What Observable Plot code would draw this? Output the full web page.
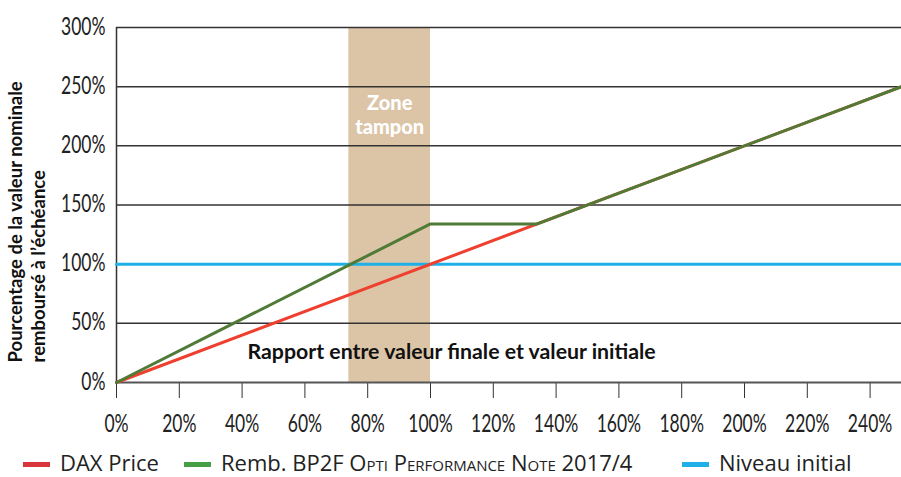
<!DOCTYPE html>
<html><head><meta charset="utf-8">
<script src="https://cdn.jsdelivr.net/npm/d3@7"></script>
<script src="https://cdn.jsdelivr.net/npm/@observablehq/plot@0.6"></script>
<style>
body{margin:0;background:#fff;}
#chart{width:901px;}
.legend{position:relative;height:37px;font-family:"Open Sans","Noto Sans",sans-serif;font-size:22px;color:#222;}
.sw{position:absolute;width:27px;height:5px;top:22px;}
.lt{position:absolute;top:7px;line-height:normal;white-space:nowrap;}
.sc{font-variant:small-caps;}
</style></head><body><div id="chart"></div>
<script>
// Data
const daxX = [0, 2.5];
const daxY = [0, 2.5];
const noteX = [0, 1.0, 1.34, 2.5];
const noteY = [0, 1.34, 1.34, 2.5];
const initialX = [0, 2.5];
const initialY = [1, 1];
const zoneRange = [0.74, 1.0];
const xTicks = [0, 0.2, 0.4, 0.6, 0.8, 1.0, 1.2, 1.4, 1.6, 1.8, 2.0, 2.2, 2.4];
const yTicks = [0, 0.5, 1.0, 1.5, 2.0, 2.5, 3.0];
const yTitle1 = "Pourcentage de la valeur nominale";
const yTitle2 = "remboursé à l’échéance";
const xTitle = "Rapport entre valeur finale et valeur initiale";
const zoneLabel = "Zone\ntampon";
const legendNames = ["DAX Price", "Remb. BP2F <span class=\"sc\">Opti Performance Note</span> 2017/4", "Niveau initial"];

const toPts = (xs, ys) => xs.map((x, i) => ({x, y: ys[i]}));
const pct = d3.format(".0%");
const tickFont = "Lato,'Liberation Sans',sans-serif";
const boldFont = "Lato,'Open Sans',sans-serif";

const plot = Plot.plot({
  width: 901,
  height: 440,
  marginTop: 27,
  marginBottom: 58,
  marginLeft: 116,
  marginRight: 0,
  x: {domain: [0, 2.5]},
  y: {domain: [0, 3]},
  style: {fontFamily: tickFont, fontSize: "25px", color: "#222", background: "#fff"},
  marks: [
    Plot.rect([{x1: zoneRange[0], x2: zoneRange[1]}], {x1: "x1", x2: "x2", y1: 0, y2: 3, fill: "#dcc4a6"}),
    Plot.ruleY(yTicks.filter(d => d > 0), {stroke: "#333", strokeWidth: 1.5}),
    Plot.axisX(xTicks, {tickSize: 16, tickPadding: 16, tickFormat: pct, label: null, stroke: "#333", fontSize: 25, fontWeight: 400}),
    Plot.axisY(yTicks, {tickSize: 0, tickPadding: 11, tickFormat: pct, label: null, dy: -1, fontSize: 25, fontWeight: 400}),
    Plot.ruleX([0], {y1: 0, y2: 3, stroke: "#333", strokeWidth: 1.5}),
    Plot.ruleY([0], {stroke: "#555", strokeWidth: 2}),
    Plot.line(toPts(initialX, initialY), {x: "x", y: "y", stroke: "#1fb0e8", strokeWidth: 3}),
    Plot.line(toPts(daxX, daxY), {x: "x", y: "y", stroke: "#ef3f2e", strokeWidth: 3}),
    Plot.line(toPts(noteX, noteY), {x: "x", y: "y", stroke: "#4f7b36", strokeWidth: 3}),
    Plot.text([zoneLabel], {text: d => d, x: (zoneRange[0] + zoneRange[1]) / 2, y: 2.27, fill: "#fff", fontWeight: 900, fontSize: 20, lineHeight: 1.2, fontFamily: boldFont}),
    Plot.text([xTitle], {text: d => d, frameAnchor: "bottom-left", dx: 131, dy: -24, textAnchor: "start", fill: "#111", fontWeight: "bold", fontSize: 21.3, fontFamily: boldFont}),
    Plot.text([yTitle1], {text: d => d, frameAnchor: "bottom-left", dx: -95, dy: -20, rotate: -90, textAnchor: "start", fill: "#111", fontWeight: "bold", fontSize: 18.5, fontFamily: boldFont}),
    Plot.text([yTitle2], {text: d => d, frameAnchor: "bottom-left", dx: -72, dy: -20, rotate: -90, textAnchor: "start", fill: "#111", fontWeight: "bold", fontSize: 18.5, fontFamily: boldFont})
  ]
});
// condense the tick labels horizontally, like the reference's narrow face
plot.querySelectorAll('g[aria-label="x-axis tick label"] text, g[aria-label="y-axis tick label"] text').forEach(t => {
  t.setAttribute("transform", (t.getAttribute("transform") || "") + " scale(0.7,1)");
});
document.getElementById("chart").append(plot);

const legend = document.createElement("div");
legend.className = "legend";
const swColors = ["#d9343a", "#46a043", "#1fb0e8"];
const swLeft = [23, 184, 682];
const txtLeft = [60, 221, 719];
legend.innerHTML = legendNames.map((n, i) =>
  `<span class="sw" style="left:${swLeft[i]}px;background:${swColors[i]}"></span><span class="lt" style="left:${txtLeft[i]}px">${n}</span>`).join("");
document.getElementById("chart").append(legend);
</script></body></html>
